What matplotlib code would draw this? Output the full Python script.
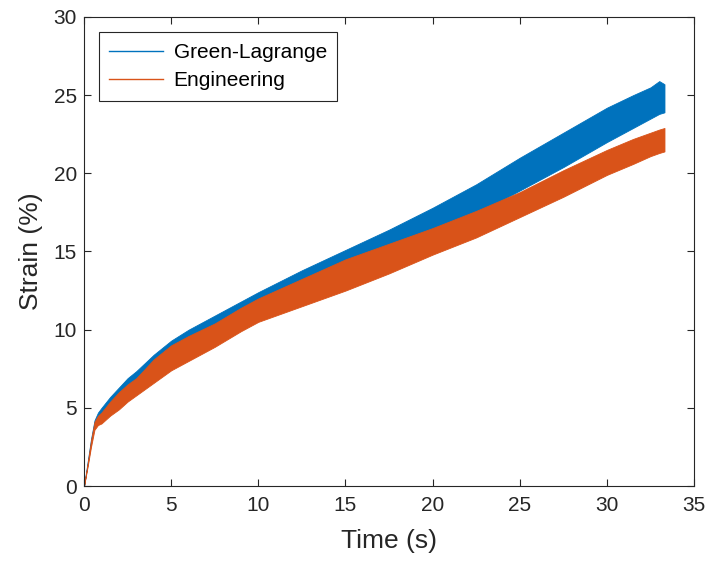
import numpy as np
import matplotlib
matplotlib.use("Agg")
import matplotlib.pyplot as plt
from matplotlib.lines import Line2D

plt.rcParams['font.family'] = ['Liberation Sans', 'DejaVu Sans']

# time samples (s) and envelopes of the two oscillating strain traces (%)
time = [0, 0.2, 0.4, 0.6, 0.8, 1.0, 1.5, 2, 2.5, 3, 4, 5, 6, 7.5, 9, 10,
        12.5, 15, 17.5, 20, 22.5, 25, 27.5, 30, 31.5, 32.5, 33.0, 33.3]
gl_upper = [0, 1.5, 3.0, 4.2, 4.7, 5.0, 5.7, 6.3, 6.9, 7.35, 8.4, 9.3, 10.0, 10.9, 11.8, 12.4,
            13.8, 15.1, 16.4, 17.8, 19.3, 21.0, 22.6, 24.2, 25.0, 25.5, 25.9, 25.7]
gl_lower = [0, 1.3, 2.7, 3.9, 4.2, 4.4, 5.0, 5.6, 6.2, 6.6, 7.7, 8.6, 9.3, 10.2, 11.1, 11.7,
            13.0, 14.3, 15.3, 16.3, 17.4, 18.9, 20.4, 22.0, 22.9, 23.5, 23.8, 23.9]
eng_upper = [0, 1.4, 2.9, 4.1, 4.5, 4.7, 5.4, 6.0, 6.5, 6.9, 8.1, 9.0, 9.6, 10.4, 11.4, 12.0,
             13.25, 14.5, 15.5, 16.5, 17.6, 18.8, 20.2, 21.5, 22.2, 22.6, 22.8, 22.9]
eng_lower = [0, 1.2, 2.5, 3.6, 3.9, 4.0, 4.5, 4.9, 5.4, 5.8, 6.6, 7.4, 8.0, 8.9, 9.9, 10.5,
             11.5, 12.5, 13.6, 14.8, 15.9, 17.2, 18.5, 19.9, 20.6, 21.1, 21.3, 21.4]

blue = '#0072BD'
orange = '#D95319'
axc = '#262626'

fig = plt.figure(figsize=(7.09, 5.62), dpi=100)
ax = fig.add_axes([0.1185, 0.1352, 0.8605, 0.8346])

ax.fill_between(time, gl_lower, gl_upper, color=blue, lw=0.6, edgecolor=blue)
ax.fill_between(time, eng_lower, eng_upper, color=orange, lw=0.6, edgecolor=orange)

ax.set_xlim(0, 35)
ax.set_ylim(0, 30)
ax.set_xticks(np.arange(0, 36, 5))
ax.set_yticks(np.arange(0, 31, 5))
ax.tick_params(direction='in', top=True, right=True, length=5, width=0.8,
               colors=axc, labelsize=15)
ax.tick_params(axis='x', pad=7)
ax.tick_params(axis='y', pad=5)
for s in ax.spines.values():
    s.set_color(axc)
    s.set_linewidth(0.8)

ax.set_xlabel('Time (s)', fontsize=19, color=axc, labelpad=10)
ax.set_ylabel('Strain (%)', fontsize=19, color=axc, labelpad=8)

handles = [Line2D([], [], color=blue, lw=1), Line2D([], [], color=orange, lw=1)]
leg = ax.legend(handles, ['Green-Lagrange', 'Engineering'], loc='upper left',
                bbox_to_anchor=(0.024, 0.967), fontsize=15, fancybox=False,
                edgecolor=axc, framealpha=1, handlelength=2.6, handletextpad=0.5,
                borderpad=0.5, labelspacing=0.45, borderaxespad=0)
leg.get_frame().set_linewidth(0.8)

fig.savefig('out.png', dpi=100)
